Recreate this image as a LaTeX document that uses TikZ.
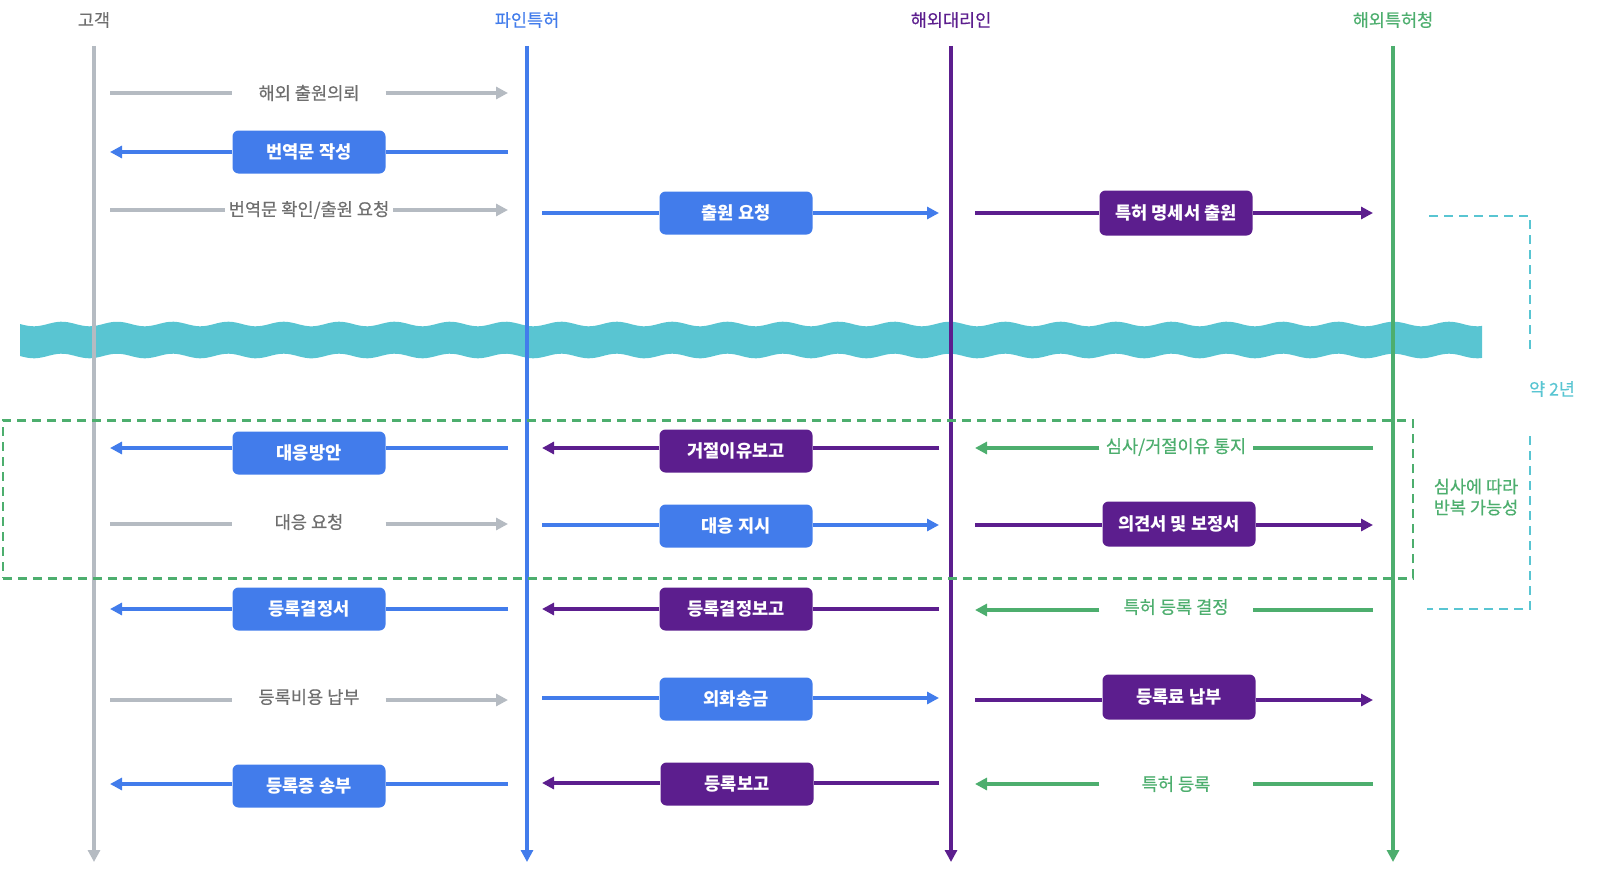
\documentclass[tikz,border=0pt]{standalone}
\usepackage{fontspec}
\setmainfont{Noto Sans CJK KR}
\newfontfamily\krmed[FakeBold=0.5]{Noto Sans CJK KR}
\usetikzlibrary{arrows.meta}
\definecolor{cgray}{HTML}{B5BBC2}
\definecolor{cgtext}{HTML}{6E6E6E}
\definecolor{cblue}{HTML}{427CEB}
\definecolor{cpurple}{HTML}{5C1E8E}
\definecolor{cgreen}{HTML}{4DAE6E}
\definecolor{ccyan}{HTML}{59C5D2}
\tikzset{
  life/.style={line width=3.5pt,-{Triangle[length=12pt,width=12pt]}},
  msg/.style={line width=4pt},
  tip/.style={-{Triangle[length=12pt,width=12pt]}},
  box/.style={rounded corners=6pt,minimum width=153pt,minimum height=43pt,inner sep=0pt,
    text=white,font=\fontsize{17.6}{20}\selectfont\bfseries},
  lbl/.style={minimum width=153pt,minimum height=30pt,inner sep=4pt,font=\krmed\fontsize{17.6}{20}\selectfont},
  head/.style={font=\krmed\fontsize{17.5}{20}\selectfont},
}
\begin{document}
\begin{tikzpicture}[x=1pt,y=-1pt]
\useasboundingbox (0,0) rectangle (1600,875);
% wave
\fill[ccyan] plot[domain=20:1482,samples=400] (\x,{324+2.3*sin((\x-20)/55.5*360)})
  -- plot[domain=1482:20,samples=400] (\x,{356+2.3*sin((\x-20)/55.5*360)}) -- cycle;
% headers
\node[head,text=cgtext] (h1) at (94,20) {고객};
\node[head,text=cblue] (h2) at (527,20) {파인특허};
\node[head,text=cpurple] (h3) at (951,20) {해외대리인};
\node[head,text=cgreen] (h4) at (1393,20) {해외특허청};
% lifelines
\coordinate (t1) at (94,46); \coordinate (b1) at (94,862);
\coordinate (t2) at (527,46); \coordinate (b2) at (527,862);
\coordinate (t3) at (951,46); \coordinate (b3) at (951,862);
\coordinate (t4) at (1393,46); \coordinate (b4) at (1393,862);
\draw[life,cgray] (t1) -- (b1);
\draw[life,cblue] (t2) -- (b2);
\draw[life,cpurple] (t3) -- (b3);
\draw[life,cgreen] (t4) -- (b4);
% dashed green box
\node[draw=cgreen,dashed,line width=2.5pt,dash pattern=on 9pt off 6pt,minimum width=1410pt,minimum height=158pt,anchor=north west,inner sep=0pt] (rep) at (1.5,419) {};
% cyan bracket
\coordinate (c1) at (1429,216); \coordinate (c2) at (1530,216); \coordinate (c3) at (1530,352);
\coordinate (c4) at (1530,436); \coordinate (c5) at (1530,609); \coordinate (c6) at (1427,609);
\draw[ccyan,line width=2.5pt,dash pattern=on 9pt off 6pt] (c1) -- (c2) -- (c3);
\draw[ccyan,line width=2.5pt,dash pattern=on 9pt off 6pt] (c4) -- (c5) -- (c6);
\node[head,text=ccyan] (yr) at (1552,389) {약 2년};
\node[head,text=cgreen,align=center,font=\krmed\fontsize{17.5}{21}\selectfont] (rp) at (1476,497) {심사에 따라\\반복 가능성};
% ---------- row 1
\coordinate (a1) at (110,93); \coordinate (a2) at (508,93);
\node[lbl,text=cgtext] (n11) at (309,93) {해외 출원의뢰};
\draw[msg,cgray] (a1) -- (n11.west);
\draw[msg,cgray,tip] (n11.east) -- (a2);
% ---------- row 2
\coordinate (b21) at (110,152); \coordinate (b22) at (508,152);
\node[box,fill=cblue] (n21) at (309,152) {번역문 작성};
\draw[msg,cblue] (b22) -- (n21.east);
\draw[msg,cblue,tip] (n21.west) -- (b21);
% ---------- row 3
\coordinate (c31) at (110,210); \coordinate (c32) at (508,210);
\node[lbl,text=cgtext,minimum width=0pt] (n31) at (309,210) {번역문 확인/출원 요청};
\draw[msg,cgray] (c31) -- (n31.west);
\draw[msg,cgray,tip] (n31.east) -- (c32);
\coordinate (c33) at (542,213); \coordinate (c34) at (939,213);
\node[box,fill=cblue] (n32) at (736,213) {출원 요청};
\draw[msg,cblue] (c33) -- (n32.west);
\draw[msg,cblue,tip] (n32.east) -- (c34);
\coordinate (c35) at (975,213); \coordinate (c36) at (1373,213);
\node[box,fill=cpurple,minimum height=45pt] (n33) at (1176,213) {특허 명세서 출원};
\draw[msg,cpurple] (c35) -- (n33.west);
\draw[msg,cpurple,tip] (n33.east) -- (c36);
% ---------- row 4
\coordinate (d1) at (110,448); \coordinate (d2) at (508,448);
\node[box,fill=cblue] (n41) at (309,453) {대응방안};
\draw[msg,cblue] (d2) -- (n41.east |- d2);
\draw[msg,cblue,tip] (n41.west |- d1) -- (d1);
\coordinate (d3) at (542,448); \coordinate (d4) at (939,448);
\node[box,fill=cpurple] (n42) at (736,451) {거절이유보고};
\draw[msg,cpurple] (d4) -- (n42.east |- d4);
\draw[msg,cpurple,tip] (n42.west |- d3) -- (d3);
\coordinate (d5) at (975,448); \coordinate (d6) at (1373,448);
\node[lbl,text=cgreen] (n43) at (1176,447) {심사/거절이유 통지};
\draw[msg,cgreen] (d6) -- (n43.east |- d6);
\draw[msg,cgreen,tip] (n43.west |- d5) -- (d5);
% ---------- row 5
\coordinate (e1) at (110,524); \coordinate (e2) at (508,524);
\node[lbl,text=cgtext] (n51) at (309,522) {대응 요청};
\draw[msg,cgray] (e1) -- (n51.west |- e1);
\draw[msg,cgray,tip] (n51.east |- e2) -- (e2);
\coordinate (e3) at (542,525); \coordinate (e4) at (939,525);
\node[box,fill=cblue] (n52) at (736,526) {대응 지시};
\draw[msg,cblue] (e3) -- (n52.west |- e3);
\draw[msg,cblue,tip] (n52.east |- e4) -- (e4);
\coordinate (e5) at (975,525); \coordinate (e6) at (1373,525);
\node[box,fill=cpurple,minimum height=45pt] (n53) at (1179,524) {의견서 및 보정서};
\draw[msg,cpurple] (e5) -- (n53.west |- e5);
\draw[msg,cpurple,tip] (n53.east |- e6) -- (e6);
% ---------- row 6
\coordinate (f1) at (110,609); \coordinate (f2) at (508,609);
\node[box,fill=cblue] (n61) at (309,609) {등록결정서};
\draw[msg,cblue] (f2) -- (n61.east |- f2);
\draw[msg,cblue,tip] (n61.west |- f1) -- (f1);
\coordinate (f3) at (542,609); \coordinate (f4) at (939,609);
\node[box,fill=cpurple] (n62) at (736,609) {등록결정보고};
\draw[msg,cpurple] (f4) -- (n62.east |- f4);
\draw[msg,cpurple,tip] (n62.west |- f3) -- (f3);
\coordinate (f5) at (975,610); \coordinate (f6) at (1373,610);
\node[lbl,text=cgreen] (n63) at (1176,607) {특허 등록 결정};
\draw[msg,cgreen] (f6) -- (n63.east |- f6);
\draw[msg,cgreen,tip] (n63.west |- f5) -- (f5);
% ---------- row 7
\coordinate (g1) at (110,700); \coordinate (g2) at (508,700);
\node[lbl,text=cgtext] (n71) at (309,697) {등록비용 납부};
\draw[msg,cgray] (g1) -- (n71.west |- g1);
\draw[msg,cgray,tip] (n71.east |- g2) -- (g2);
\coordinate (g3) at (542,698); \coordinate (g4) at (939,698);
\node[box,fill=cblue] (n72) at (736,699) {외화송금};
\draw[msg,cblue] (g3) -- (n72.west |- g3);
\draw[msg,cblue,tip] (n72.east |- g4) -- (g4);
\coordinate (g5) at (975,700); \coordinate (g6) at (1373,700);
\node[box,fill=cpurple,minimum height=45pt] (n73) at (1179,697) {등록료 납부};
\draw[msg,cpurple] (g5) -- (n73.west |- g5);
\draw[msg,cpurple,tip] (n73.east |- g6) -- (g6);
% ---------- row 8
\coordinate (k1) at (110,784); \coordinate (k2) at (508,784);
\node[box,fill=cblue] (n81) at (309,786) {등록증 송부};
\draw[msg,cblue] (k2) -- (n81.east |- k2);
\draw[msg,cblue,tip] (n81.west |- k1) -- (k1);
\coordinate (k3) at (542,783); \coordinate (k4) at (939,783);
\node[box,fill=cpurple] (n82) at (737,784) {등록보고};
\draw[msg,cpurple] (k4) -- (n82.east |- k4);
\draw[msg,cpurple,tip] (n82.west |- k3) -- (k3);
\coordinate (k5) at (975,784); \coordinate (k6) at (1373,784);
\node[lbl,text=cgreen] (n83) at (1176,784) {특허 등록};
\draw[msg,cgreen] (k6) -- (n83.east |- k6);
\draw[msg,cgreen,tip] (n83.west |- k5) -- (k5);
\end{tikzpicture}
\end{document}
